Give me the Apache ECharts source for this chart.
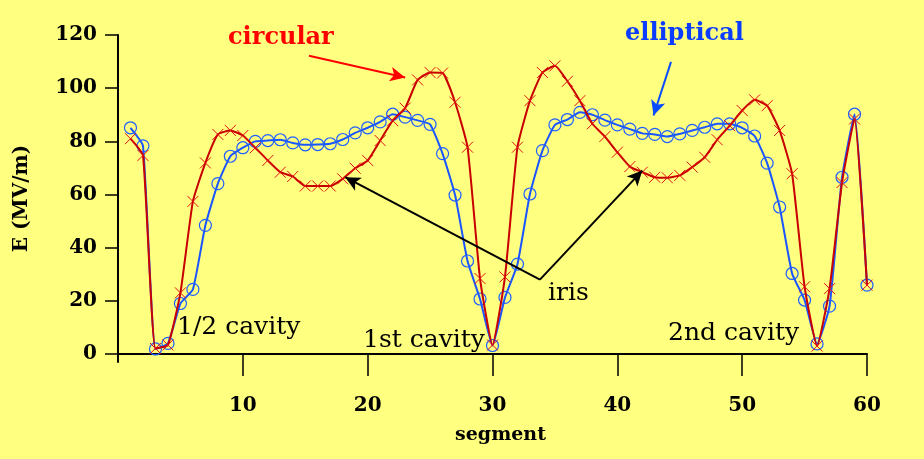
<!DOCTYPE html>
<html>
<head>
<meta charset="utf-8">
<script src="https://cdn.jsdelivr.net/npm/echarts@6/dist/echarts.min.js"></script>
<style>
  html, body { margin: 0; padding: 0; background: #ffff80; }
  #chart { width: 924px; height: 459px; }
</style>
</head>
<body>
<div id="chart"></div>
<script>
// Field amplitude along the cavity string, one value per segment
const segments = Array.from({ length: 60 }, (_, i) => i + 1);

const circular = [
  81, 74.7, 2.1, 3.4, 23, 57.4, 71.9, 82.6, 84.1, 82.2,
  77.6, 72.8, 68.4, 66.8, 63.2, 63.2, 63.2, 65.9, 69.9, 72.8,
  80.3, 87.8, 92.5, 103.1, 105.9, 105.7, 94.7, 77.8, 28.4, 3.4,
  29, 77.8, 95.3, 105.9, 108.4, 102.6, 95.3, 86.6, 81.8, 75.9,
  70.5, 68.4, 66.5, 66.3, 67.2, 70.3, 74, 80.6, 85.9, 91.6,
  95.6, 93.4, 84.1, 67.8, 25.3, 3.0, 24.6, 64.5, 88.4, 25.9
];

const elliptical = [
  85.1, 78.3, 1.9, 4.0, 19.0, 24.3, 48.4, 64.1, 74.4, 77.6,
  80.0, 80.3, 80.6, 79.4, 78.7, 78.8, 79.1, 80.7, 83.2, 85.1,
  87.3, 90.2, 89.1, 87.9, 86.4, 75.4, 59.8, 35.0, 20.7, 3.2,
  21.3, 33.8, 60.2, 76.5, 86.2, 88.2, 90.9, 90.0, 88.0, 86.2,
  84.6, 83.0, 82.6, 81.8, 82.8, 84.1, 85.3, 86.6, 86.6, 85.1,
  82.0, 71.8, 55.3, 30.3, 20.3, 3.8, 18.0, 66.5, 90.2, 25.9
];

const yTicks = [0, 20, 40, 60, 80, 100, 120];
const xTicks = [10, 20, 30, 40, 50, 60];

// Pointer arrows, given in data coordinates: [from, to]
const irisArrows = [
  [[33.8, 28.0], [18.2, 66.5]],
  [[33.8, 28.0], [42.0, 69.0]]
];
const circularArrow = [[15.3, 112.2], [23.0, 104.0]];
const ellipticalArrow = [[44.3, 109.9], [42.9, 89.7]];

const serif = '"DejaVu Serif", "Liberation Serif", serif';

const pair = (data) => data.map((v, i) => [segments[i], v]);
const arrowLine = (a) => [{ coord: a[0] }, { coord: a[1] }];
const colouredArrow = (a, color) => [
  { coord: a[0], lineStyle: { color: color, width: 2, type: 'solid' }, itemStyle: { color: color } },
  { coord: a[1] }
];

const chart = echarts.init(document.getElementById('chart'), null, { renderer: 'canvas' });

chart.setOption({
  backgroundColor: '#ffff80',
  animation: false,
  grid: { left: 118, right: 57, top: 35, bottom: 97, containLabel: false },
  xAxis: {
    type: 'value',
    min: 0,
    max: 60,
    name: 'segment',
    nameLocation: 'middle',
    nameGap: 64,
    nameTextStyle: {
      fontFamily: serif, fontWeight: 'bold', fontSize: 19, color: '#000',
      padding: [0, 0, 0, 16]
    },
    axisLine: { lineStyle: { color: '#000', width: 2 } },
    axisTick: { customValues: xTicks, length: 22, lineStyle: { color: '#000', width: 1.5 } },
    axisLabel: {
      customValues: xTicks,
      margin: 34,
      fontFamily: serif, fontWeight: 'bold', fontSize: 20, color: '#000'
    },
    splitLine: { show: false }
  },
  yAxis: {
    type: 'value',
    min: -3,
    max: 120,
    name: 'E (MV/m)',
    nameLocation: 'middle',
    nameGap: 86,
    nameRotate: 90,
    nameTextStyle: { fontFamily: serif, fontWeight: 'bold', fontSize: 20, color: '#000' },
    axisLine: { show: true, lineStyle: { color: '#000', width: 2 } },
    axisTick: { show: true, customValues: yTicks, length: 13, lineStyle: { color: '#000', width: 1.5 } },
    axisLabel: {
      customValues: yTicks,
      margin: 21,
      fontFamily: serif, fontWeight: 'bold', fontSize: 20, color: '#000'
    },
    splitLine: { show: false }
  },
  series: [
    {
      name: 'elliptical',
      type: 'line',
      data: pair(elliptical),
      smooth: 0.15,
      symbol: 'circle',
      symbolSize: 12,
      lineStyle: { color: '#1a55ff', width: 2 },
      itemStyle: { color: 'rgba(0,0,0,0)', borderColor: '#1f5fff', borderWidth: 1.2 },
      z: 3
    },
    {
      name: 'circular',
      type: 'line',
      data: pair(circular),
      smooth: 0.15,
      symbol: 'path://M0,0L10,10M10,0L0,10',
      symbolSize: 11,
      lineStyle: { color: '#c80000', width: 2 },
      itemStyle: { color: 'rgba(0,0,0,0)', borderColor: '#e01010', borderWidth: 1 },
      z: 4,
      markLine: {
        silent: true,
        animation: false,
        label: { show: false },
        symbol: ['none', 'arrow'],
        symbolSize: [11, 15],
        data: [
          arrowLine(irisArrows[0]),
          arrowLine(irisArrows[1]),
          colouredArrow(circularArrow, '#ff0000'),
          colouredArrow(ellipticalArrow, '#0a4cff')
        ],
        lineStyle: { color: '#000', width: 2, type: 'solid' },
        itemStyle: { color: '#000' }
      }
    }
  ],
  graphic: [
    { type: 'text', left: 228, top: 26, style: { text: 'circular', fill: '#ff0000', font: 'bold 24px ' + serif } },
    { type: 'text', left: 625, top: 22, style: { text: 'elliptical', fill: '#0a3cff', font: 'bold 24px ' + serif } },
    { type: 'text', left: 177, top: 315, style: { text: '1/2 cavity', fill: '#000', font: '25px ' + serif } },
    { type: 'text', left: 363, top: 328, style: { text: '1st cavity', fill: '#000', font: '25px ' + serif } },
    { type: 'text', left: 668, top: 321, style: { text: '2nd cavity', fill: '#000', font: '25px ' + serif } },
    { type: 'text', left: 548, top: 281, style: { text: 'iris', fill: '#000', font: '25px ' + serif } }
  ]
});
</script>
</body>
</html>
